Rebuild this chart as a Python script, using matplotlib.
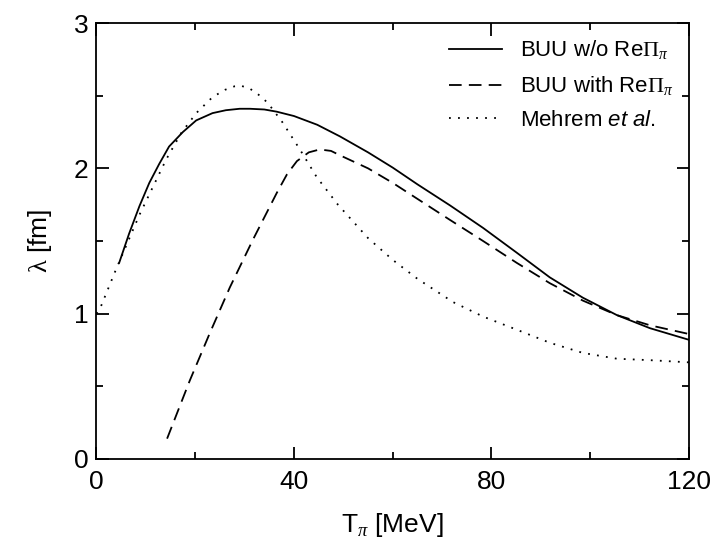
import numpy as np
import matplotlib.pyplot as plt
from matplotlib.ticker import MultipleLocator

plt.rcParams['font.family'] = ['Liberation Sans', 'DejaVu Sans']
# griechische Buchstaben serif (wie Symbol), Rest Arial-artig
plt.rcParams['mathtext.fontset'] = 'custom'
plt.rcParams['mathtext.rm'] = 'Liberation Sans'
plt.rcParams['mathtext.it'] = 'Liberation Sans:italic'
plt.rcParams['mathtext.sf'] = 'Liberation Serif'
plt.rcParams['mathtext.cal'] = 'Liberation Serif:italic'

# BUU ohne RePi
t_buu = [4.6, 6.6, 8.7, 10.7, 12.7, 14.7, 17.5, 20.2, 23.5, 26.2, 29.0, 31.1, 34.0,
         36.5, 40.0, 44.7, 49.3, 55.0, 60.0, 65.0, 71.6, 78.3, 85.1, 91.8, 98.5,
         105.4, 112.1, 120.0]
l_buu = [1.35, 1.55, 1.74, 1.90, 2.03, 2.15, 2.25, 2.33, 2.38, 2.40, 2.41, 2.41, 2.405,
         2.39, 2.36, 2.30, 2.22, 2.11, 2.005, 1.89, 1.745, 1.59, 1.42, 1.25, 1.11,
         0.99, 0.90, 0.82]

# BUU mit RePi
t_re = [14.3, 18.9, 23.0, 27.0, 31.7, 36.5, 38.6, 40.6, 43.0, 45.2, 47.5, 49.3, 55.0, 60.0,
        65.0, 71.6, 78.3, 85.1, 91.8, 98.5, 105.4, 112.1, 120.0]
l_re = [0.14, 0.54, 0.87, 1.18, 1.51, 1.83, 1.96, 2.05, 2.11, 2.13, 2.12, 2.09, 2.00, 1.90,
        1.79, 1.645, 1.50, 1.35, 1.21, 1.09, 0.99, 0.92, 0.86]

# Mehrem et al.
t_me = [0.0, 0.9, 3.9, 6.3, 8.7, 11.4, 14.1, 17.1, 20.2, 23.5, 26.0, 28.0, 29.1, 31.0, 33.1,
        34.7, 37.6, 41.2, 44.6, 48.9, 55.0, 60.0, 65.0, 72.2, 78.3, 85.1, 91.8,
        98.5, 105.4, 112.1, 120.0]
l_me = [1.00, 1.05, 1.30, 1.49, 1.68, 1.87, 2.06, 2.24, 2.38, 2.49, 2.54, 2.565, 2.57, 2.55, 2.50,
        2.45, 2.32, 2.13, 1.94, 1.75, 1.52, 1.37, 1.24, 1.08, 0.98, 0.89, 0.80,
        0.73, 0.69, 0.68, 0.665]

fig = plt.figure(figsize=(7.12, 5.43), dpi=100)
ax = fig.add_axes([0.1355, 0.1547, 0.8322, 0.8029])

ax.plot(t_buu, l_buu, "k-", lw=1.3, label=r"BUU w/o Re$\mathsf{\Pi}_{\mathcal{\pi}}$")
ax.plot(t_re, l_re, "k-", lw=1.3, dashes=(7, 4), label=r"BUU with Re$\mathsf{\Pi}_{\mathcal{\pi}}$")
ax.plot(t_me, l_me, "k", lw=1.3, ls=(0, (1, 4)), label=r"Mehrem $et\ al.$")

ax.set_xlim(0, 120)
ax.set_ylim(0, 3)
ax.xaxis.set_major_locator(MultipleLocator(40))
ax.xaxis.set_minor_locator(MultipleLocator(20))
ax.yaxis.set_major_locator(MultipleLocator(1))
ax.yaxis.set_minor_locator(MultipleLocator(0.5))
ax.tick_params(which="both", direction="in", top=True, right=True, width=1.3,
               labelsize=19)
ax.tick_params(axis="x", pad=8)
ax.tick_params(axis="y", pad=6)
ax.tick_params(which="major", length=9)
ax.tick_params(which="minor", length=5)
for s in ax.spines.values():
    s.set_linewidth(1.3)

ax.set_xlabel(r"T$_{\mathcal{\pi}}$ [MeV]", fontsize=19, labelpad=12)
ax.set_ylabel(r"$\mathsf{\lambda}$ [fm]", fontsize=19, labelpad=14)

leg = ax.legend(loc="upper right", fontsize=16, frameon=False, handlelength=2.4,
                handletextpad=0.8, labelspacing=0.55, borderaxespad=0.3)

fig.savefig("out.png", dpi=100)
